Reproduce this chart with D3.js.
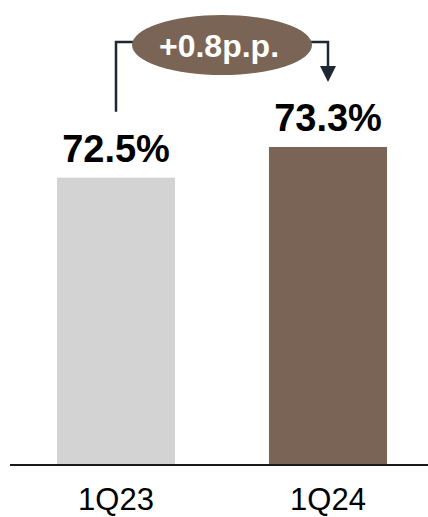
<!DOCTYPE html>
<html>
<head>
<meta charset="utf-8">
<script src="https://cdn.jsdelivr.net/npm/d3@7"></script>
<style>
  html, body { margin: 0; padding: 0; background: #fff; }
  svg { display: block; }
  text { font-family: "Liberation Sans", Arial, sans-serif; }
</style>
</head>
<body>
<svg id="chart" width="428" height="517"></svg>
<script>
// Quarterly values (%)
const categories = ["1Q23", "1Q24"];
const values = [72.5, 73.3];
const valueLabels = ["72.5%", "73.3%"];
const barColors = ["#d3d3d3", "#7a6455"];
const changeLabel = "+0.8p.p.";

const W = 428, H = 517;
const baseY = 465;
const svg = d3.select("#chart");

const x = d3.scaleBand()
  .domain(categories)
  .range([10, 434])
  .paddingInner(0.443)
  .paddingOuter(0.2215);

// Truncated value axis, as in the printed chart
const y = d3.scaleLinear()
  .domain([65, 73.3])
  .range([baseY, 147]);

// Bars
svg.selectAll("rect.bar")
  .data(values)
  .join("rect")
  .attr("class", "bar")
  .attr("x", (d, i) => x(categories[i]))
  .attr("y", d => y(d))
  .attr("width", x.bandwidth())
  .attr("height", d => baseY - y(d))
  .attr("fill", (d, i) => barColors[i]);

// Baseline
svg.append("line")
  .attr("x1", 10).attr("x2", W)
  .attr("y1", baseY).attr("y2", baseY)
  .attr("stroke", "#1a1a1a").attr("stroke-width", 2);

// Value labels
svg.selectAll("text.val")
  .data(values)
  .join("text")
  .attr("class", "val")
  .attr("x", (d, i) => x(categories[i]) + x.bandwidth() / 2)
  .attr("y", d => y(d) - 16)
  .attr("text-anchor", "middle")
  .attr("font-size", 38)
  .attr("font-weight", "bold")
  .attr("fill", "#000")
  .text((d, i) => valueLabels[i]);

// Category axis labels
const xAxis = d3.axisBottom(x).tickSize(0).tickPadding(0);
const gx = svg.append("g")
  .attr("transform", `translate(0,${baseY})`)
  .call(xAxis);
gx.select(".domain").remove();
gx.selectAll("text")
  .attr("dy", null)
  .attr("y", 45)
  .attr("font-size", 31)
  .attr("font-family", "'Liberation Sans', Arial, sans-serif")
  .attr("fill", "#000");

// Change annotation: elbow connector with bubble
const cx0 = x(categories[0]) + x.bandwidth() / 2;
const cx1 = x(categories[1]) + x.bandwidth() / 2;
const lineY = 42;
const ex = (cx0 + cx1) / 2, ey = 45, rx = 90, ry = 30;
const lineColor = "#1f2735";

svg.append("path")
  .attr("d", `M${cx0},${y(values[0]) - 66} V${lineY} H${ex}`)
  .attr("fill", "none")
  .attr("stroke", lineColor)
  .attr("stroke-width", 2.5);

const tipY = y(values[1]) - 65;
svg.append("path")
  .attr("d", `M${ex},${lineY} H${cx1} V${tipY - 14}`)
  .attr("fill", "none")
  .attr("stroke", lineColor)
  .attr("stroke-width", 2.5);

svg.append("path")
  .attr("d", `M${cx1 - 8},${tipY - 16} L${cx1 + 8},${tipY - 16} L${cx1},${tipY} Z`)
  .attr("fill", lineColor);

svg.append("ellipse")
  .attr("cx", ex).attr("cy", ey)
  .attr("rx", rx).attr("ry", ry)
  .attr("fill", "#7a6455");

svg.append("text")
  .attr("x", ex - 3)
  .attr("y", 57)
  .attr("text-anchor", "middle")
  .attr("font-size", 32)
  .attr("font-weight", "bold")
  .attr("fill", "#fff")
  .text(changeLabel);
</script>
</body>
</html>
